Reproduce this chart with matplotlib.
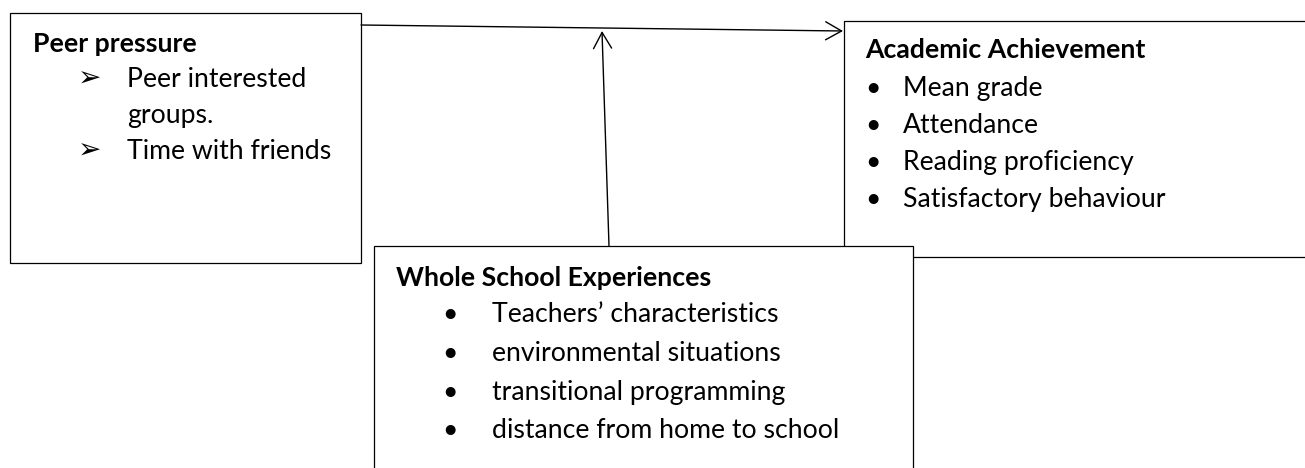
import matplotlib
matplotlib.use("Agg")
import matplotlib.pyplot as plt
from matplotlib.patches import Rectangle, FancyArrowPatch, ArrowStyle

plt.rcParams['font.family'] = ['Lato', 'DejaVu Sans']

# diagram content
peer_title = "Peer pressure"
peer_items = ["Peer interested", "groups.", "Time with friends"]
peer_marks = ["\u27a2", "", "\u27a2"]

academic_title = "Academic Achievement"
academic_items = ["Mean grade", "Attendance", "Reading proficiency", "Satisfactory behaviour"]

school_title = "Whole School Experiences"
school_items = ["Teachers\u2019 characteristics", "environmental situations",
                "transitional programming", "distance from home to school"]

W, H = 1305, 468
fig = plt.figure(figsize=(W / 100, H / 100), dpi=100)
ax = fig.add_axes([0, 0, 1, 1])
ax.set_xlim(0, W)
ax.set_ylim(H, 0)
ax.axis('off')

fs = 19.2
lw_box = 0.9


def box(x0, y0, x1, y1, z):
    ax.add_patch(Rectangle((x0, y0), x1 - x0, y1 - y0, facecolor='white',
                           edgecolor='black', lw=lw_box, zorder=z))


# boxes
box(10, 13, 361, 263, 1)
box(844, 21, 1320, 257, 1)
box(374, 246, 913, 480, 2)

# arrows
style = ArrowStyle('->', head_length=11.5, head_width=6.5)
ax.add_patch(FancyArrowPatch((361, 25), (843, 31), arrowstyle=style, mutation_scale=1,
                             shrinkA=0, shrinkB=0, lw=1.0, color='black', zorder=3))
ax.add_patch(FancyArrowPatch((609, 246), (602, 31), arrowstyle=style, mutation_scale=1,
                             shrinkA=0, shrinkB=0, lw=1.0, color='black', zorder=3))

# peer pressure box
ax.text(33, 52, peer_title, fontsize=fs, fontweight='bold', va='baseline', zorder=4)
for y, m, t in zip([87, 123, 159], peer_marks, peer_items):
    if m:
        ax.text(78, y, m, fontsize=fs + 1, va='baseline', zorder=4)
    ax.text(127, y, t, fontsize=fs, va='baseline', zorder=4)

# academic achievement box
ax.text(865, 58, academic_title, fontsize=fs, fontweight='bold', va='baseline', zorder=4)
for y, t in zip([96, 133, 170, 207], academic_items):
    ax.text(865, y, "\u2022", fontsize=fs, va='baseline', zorder=4)
    ax.text(903, y, t, fontsize=fs, va='baseline', zorder=4)

# whole school box
ax.text(396, 286, school_title, fontsize=fs, fontweight='bold', va='baseline', zorder=4)
for y, t in zip([322, 361, 400, 438], school_items):
    ax.text(442, y, "\u2022", fontsize=fs, va='baseline', zorder=4)
    ax.text(492, y, t, fontsize=fs, va='baseline', zorder=4)

fig.savefig("out.png", dpi=100)
